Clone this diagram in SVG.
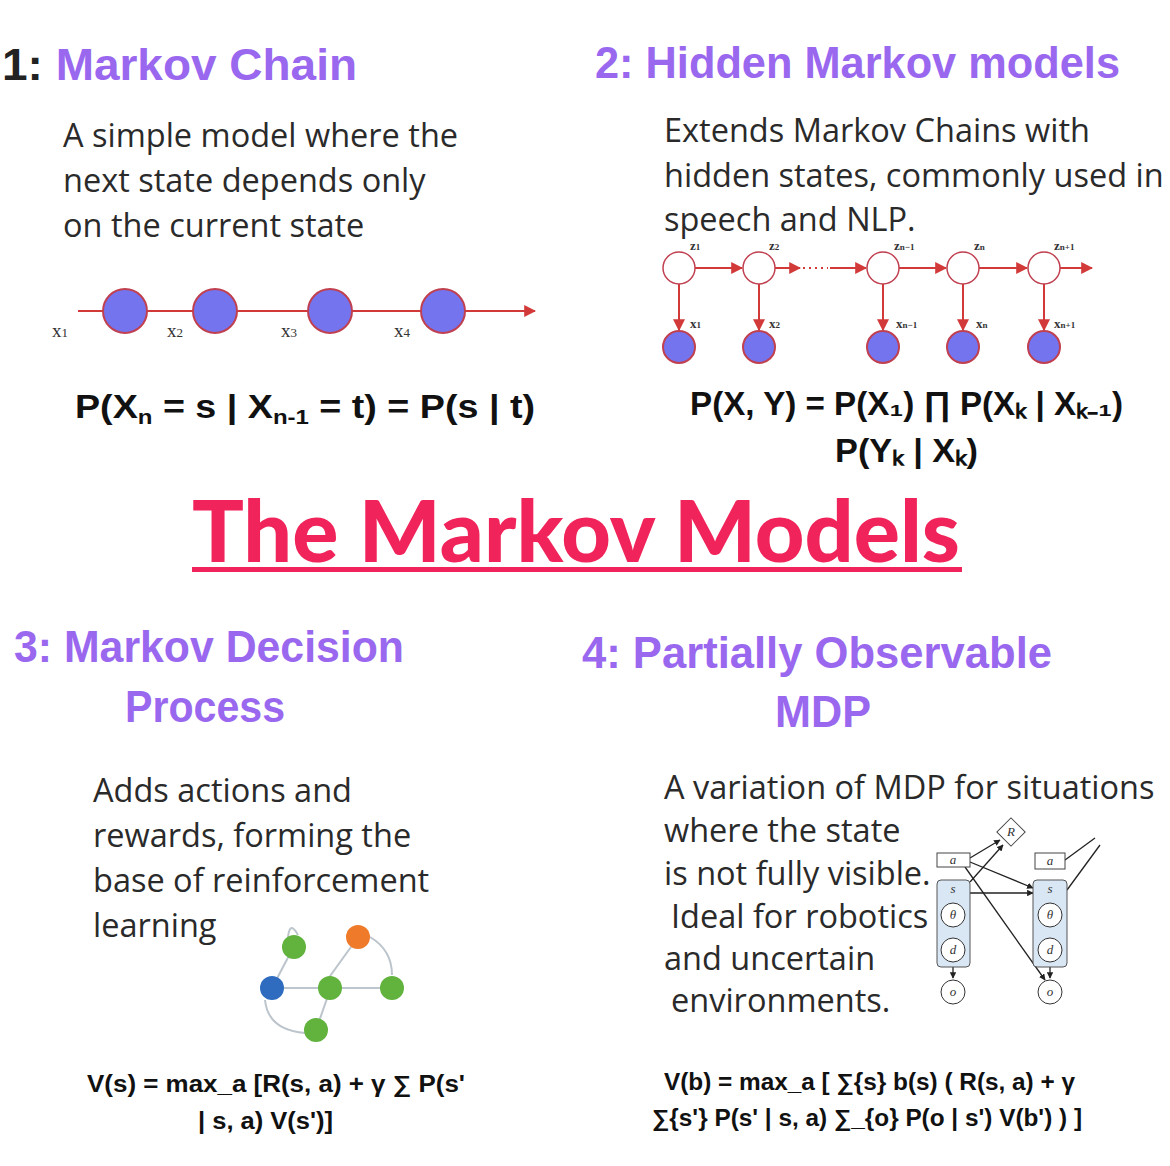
<svg xmlns="http://www.w3.org/2000/svg" width="1170" height="1166" viewBox="0 0 1170 1166">
<style>
.h{font-family:"Liberation Sans",Arial,sans-serif;font-weight:bold;font-size:44px;fill:#9a68ef}
.d{font-family:"Open Sans","Liberation Sans",sans-serif;font-size:32.5px;fill:#2a2a2a}
.f{font-family:"Liberation Sans",Arial,sans-serif;font-weight:bold;font-size:33px;fill:#111}
.f2{font-family:"Liberation Sans",Arial,sans-serif;font-weight:bold;font-size:23px;fill:#111}
.s{font-family:"Liberation Serif",serif;font-size:19px;fill:#333}
.sm{font-family:"Liberation Serif",serif;font-size:13px;fill:#333}
.rl{stroke:#d23a3a;stroke-width:2;fill:none}
.bn{fill:#7474ee;stroke:#c04050;stroke-width:2}
.wn{fill:#fff;stroke:#c04050;stroke-width:1.5}
.k{stroke:#222;stroke-width:1.3;fill:none}
</style>
<defs>
<marker id="ar" viewBox="0 0 10 10" refX="9" refY="5" markerWidth="6" markerHeight="6" orient="auto"><path d="M0,0L10,5L0,10z" fill="#d23a3a"/></marker>
<marker id="ak" viewBox="0 0 10 10" refX="9" refY="5" markerWidth="5" markerHeight="5" orient="auto"><path d="M0,0L10,5L0,10z" fill="#222"/></marker>
</defs>
<rect width="1170" height="1166" fill="#fff"/>
<text x="2" y="80" class="h" textLength="355" lengthAdjust="spacingAndGlyphs"><tspan fill="#222">1:</tspan> Markov Chain</text>
<text class="d"><tspan x="63" y="147">A simple model where the</tspan><tspan x="63" y="192">next state depends only</tspan><tspan x="63" y="237">on the current state</tspan></text>
<g id="connectors">
<line x1="78" y1="311" x2="535" y2="311" class="rl" marker-end="url(#ar)"/>
<g class="rl" marker-end="url(#ar)">
<line x1="695" y1="268" x2="742" y2="268"/><line x1="775" y1="268" x2="800" y2="268"/>
<line x1="830" y1="268" x2="866" y2="268"/><line x1="899" y1="268" x2="946" y2="268"/>
<line x1="979" y1="268" x2="1027" y2="268"/><line x1="1060" y1="268" x2="1092" y2="268"/>
<line x1="679" y1="284" x2="679" y2="330"/><line x1="759" y1="284" x2="759" y2="330"/>
<line x1="883" y1="284" x2="883" y2="330"/><line x1="963" y1="284" x2="963" y2="330"/>
<line x1="1044" y1="284" x2="1044" y2="330"/>
</g>
<line x1="803" y1="268" x2="828" y2="268" stroke="#d23a3a" stroke-width="2" stroke-dasharray="2 4"/>
<g stroke="#bcc4cc" stroke-width="2" fill="none">
<line x1="272" y1="988" x2="293" y2="948"/><line x1="272" y1="988" x2="392" y2="988"/>
<line x1="320" y1="990" x2="356" y2="940"/><line x1="330" y1="990" x2="316" y2="1030"/>
<path d="M370,937 Q392,950 392,975"/><path d="M265,1000 Q268,1030 305,1033"/>
<path d="M288,937 Q290,920 298,935"/>
</g>
<g class="k" marker-end="url(#ak)">
<line x1="970" y1="858" x2="1000" y2="840"/><line x1="970" y1="882" x2="1003" y2="845"/>
<line x1="970" y1="862" x2="1033" y2="888"/><line x1="970" y1="893" x2="1033" y2="893"/>
<line x1="965" y1="867" x2="1045" y2="980"/>
<line x1="953" y1="929" x2="953" y2="936"/><line x1="1050" y1="929" x2="1050" y2="936"/>
<line x1="953" y1="967" x2="953" y2="978"/><line x1="1050" y1="967" x2="1050" y2="978"/>
</g>
<g class="k"><line x1="1065" y1="860" x2="1095" y2="838"/><line x1="1067" y1="890" x2="1100" y2="845"/></g>
</g>
<g id="mc">
<circle cx="125" cy="311" r="22" class="bn"/><circle cx="215" cy="311" r="22" class="bn"/>
<circle cx="330" cy="311" r="22" class="bn"/><circle cx="443" cy="311" r="22" class="bn"/>
<text class="s" x="52" y="337">x<tspan font-size="13">1</tspan></text>
<text class="s" x="167" y="337">x<tspan font-size="13">2</tspan></text>
<text class="s" x="281" y="337">x<tspan font-size="13">3</tspan></text>
<text class="s" x="394" y="337">x<tspan font-size="13">4</tspan></text>
</g>
<text x="75" y="418" class="f" textLength="460" lengthAdjust="spacingAndGlyphs">P(X<tspan font-size="21" dy="6">n</tspan><tspan dy="-6"> = s | X</tspan><tspan font-size="21" dy="6">n-1</tspan><tspan dy="-6"> = t) = P(s | t)</tspan></text>
<text x="595" y="78" class="h" textLength="525" lengthAdjust="spacingAndGlyphs">2: Hidden Markov models</text>
<text class="d"><tspan x="664" y="142">Extends Markov Chains with</tspan><tspan x="664" y="187">hidden states, commonly used in</tspan><tspan x="664" y="231">speech and NLP.</tspan></text>
<g id="hmm">
<circle cx="679" cy="268" r="16" class="wn"/><circle cx="759" cy="268" r="16" class="wn"/>
<circle cx="883" cy="268" r="16" class="wn"/><circle cx="963" cy="268" r="16" class="wn"/><circle cx="1044" cy="268" r="16" class="wn"/>
<circle cx="679" cy="347" r="16" class="bn"/><circle cx="759" cy="347" r="16" class="bn"/>
<circle cx="883" cy="347" r="16" class="bn"/><circle cx="963" cy="347" r="16" class="bn"/><circle cx="1044" cy="347" r="16" class="bn"/>
<g class="sm" font-weight="bold">
<text x="690" y="250">z<tspan font-size="9">1</tspan></text><text x="769" y="250">z<tspan font-size="9">2</tspan></text>
<text x="894" y="250">z<tspan font-size="9">n−1</tspan></text><text x="974" y="250">z<tspan font-size="9">n</tspan></text>
<text x="1054" y="250">z<tspan font-size="9">n+1</tspan></text>
<text x="690" y="328">x<tspan font-size="9">1</tspan></text><text x="769" y="328">x<tspan font-size="9">2</tspan></text>
<text x="896" y="328">x<tspan font-size="9">n−1</tspan></text><text x="976" y="328">x<tspan font-size="9">n</tspan></text>
<text x="1054" y="328">x<tspan font-size="9">n+1</tspan></text>
</g>
</g>
<text x="690" y="415" class="f" font-size="30" textLength="433" lengthAdjust="spacingAndGlyphs">P(X, Y) = P(X₁) ∏ P(Xₖ | Xₖ₋₁)</text>
<text x="835" y="462" class="f" font-size="30" textLength="143" lengthAdjust="spacingAndGlyphs">P(Yₖ | Xₖ)</text>
<text x="192" y="562" font-family="Lato,'Liberation Sans',sans-serif" font-weight="900" font-size="86" fill="#f0245a" textLength="768" lengthAdjust="spacingAndGlyphs">The Markov Models</text>
<rect x="192" y="567" width="770" height="5" fill="#f0245a"/>
<text x="14" y="662" class="h" textLength="390" lengthAdjust="spacingAndGlyphs">3: Markov Decision</text>
<text x="125" y="722" class="h" textLength="160" lengthAdjust="spacingAndGlyphs">Process</text>
<text class="d"><tspan x="93" y="802">Adds actions and</tspan><tspan x="93" y="847">rewards, forming the</tspan><tspan x="93" y="892">base of reinforcement</tspan><tspan x="93" y="937">learning</tspan></text>
<g id="mdp">
<circle cx="294" cy="947" r="12" fill="#62b23e"/><circle cx="358" cy="937" r="12" fill="#ef7a2a"/>
<circle cx="272" cy="988" r="12" fill="#2f6cc0"/><circle cx="330" cy="988" r="12" fill="#62b23e"/>
<circle cx="392" cy="988" r="12" fill="#62b23e"/><circle cx="316" cy="1030" r="12" fill="#62b23e"/>
</g>
<text x="87" y="1092" class="f2" textLength="378" lengthAdjust="spacingAndGlyphs">V(s) = max_a [R(s, a) + γ ∑ P(s'</text>
<text x="198" y="1129" class="f2" textLength="135" lengthAdjust="spacingAndGlyphs">| s, a) V(s')]</text>
<text x="582" y="668" class="h" textLength="470" lengthAdjust="spacingAndGlyphs">4: Partially Observable</text>
<text x="775" y="727" class="h" textLength="96" lengthAdjust="spacingAndGlyphs">MDP</text>
<text class="d"><tspan x="664" y="799">A variation of MDP for situations</tspan><tspan x="664" y="842">where the state</tspan><tspan x="664" y="885">is not fully visible.</tspan><tspan x="671" y="928">Ideal for robotics</tspan><tspan x="664" y="970">and uncertain</tspan><tspan x="671" y="1012">environments.</tspan></text>
<g id="pomdp">
<rect x="937" y="853" width="33" height="14" fill="#fff" stroke="#444"/>
<rect x="1035" y="853" width="30" height="16" fill="#fff" stroke="#444"/>
<rect x="1001" y="822" width="20" height="20" transform="rotate(45 1011 832)" fill="#fff" stroke="#444"/>
<rect x="937" y="880" width="33" height="87" rx="4" fill="#d9e6f4" stroke="#555"/>
<rect x="1033" y="880" width="34" height="87" rx="4" fill="#d9e6f4" stroke="#555"/>
<g fill="#fff" stroke="#333"><circle cx="953" cy="915" r="12"/><circle cx="953" cy="950" r="12"/><circle cx="953" cy="992" r="12"/>
<circle cx="1050" cy="915" r="12"/><circle cx="1050" cy="950" r="12"/><circle cx="1050" cy="992" r="12"/></g>
<g class="sm" font-style="italic" text-anchor="middle"><text x="953" y="864">a</text><text x="1050" y="865">a</text><text x="1011" y="836">R</text>
<text x="953" y="893">s</text><text x="1050" y="893">s</text><text x="953" y="919">θ</text><text x="1050" y="919">θ</text>
<text x="953" y="954">d</text><text x="1050" y="954">d</text><text x="953" y="996">o</text><text x="1050" y="996">o</text></g>
</g>
<text x="664" y="1090" class="f2" textLength="411" lengthAdjust="spacingAndGlyphs">V(b) = max_a [ ∑{s} b(s) ( R(s, a) + γ</text>
<text x="652" y="1126" class="f2" textLength="430" lengthAdjust="spacingAndGlyphs">∑{s'} P(s' | s, a) ∑_{o} P(o | s') V(b') ) ]</text>
</svg>
